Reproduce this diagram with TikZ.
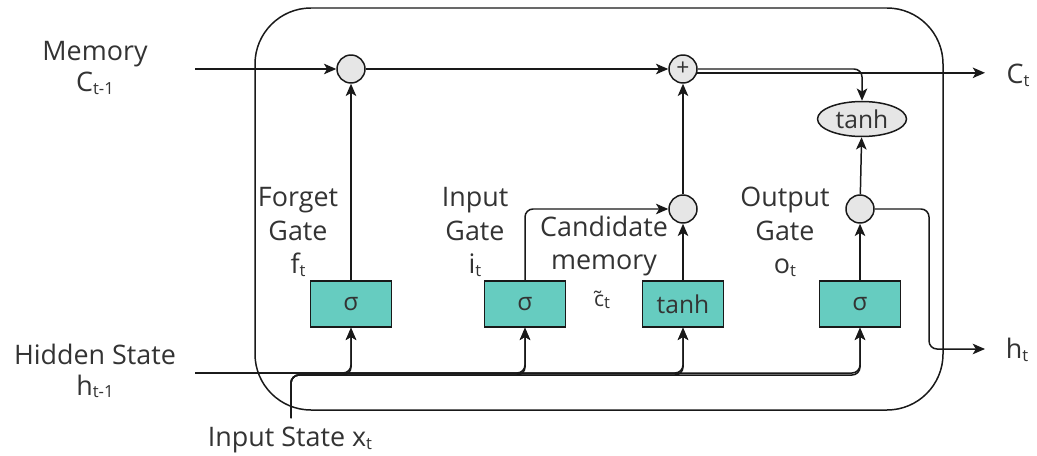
\documentclass[tikz,border=0pt]{standalone}
\usepackage{fontspec}
\setmainfont{Open Sans}
\usepackage{tikz}
\usetikzlibrary{arrows.meta}
\usetikzlibrary{shapes.geometric}
\definecolor{mteal}{RGB}{102,204,192}
\definecolor{mgrey}{RGB}{230,230,230}
\definecolor{mtext}{RGB}{51,51,51}
\newcommand{\lsub}[1]{\raisebox{-0.2ex}{\fontsize{9.5}{9.5}\selectfont #1}}
\tikzset{gatebox/.style = {draw, fill=mteal, minimum width=1.62cm, minimum height=0.92cm,
                           font=\fontsize{14}{16}\selectfont},
         opnode/.style = {circle, draw, fill=mgrey, minimum size=0.56cm, inner sep=0pt},
         flow/.style = {-{Stealth[length=7pt, width=6pt, inset=1.8pt]}},
         txt/.style = {align=center, font=\fontsize{15.3}{19}\selectfont}}

\begin{document}
\begin{tikzpicture}[x=0.02cm, y=-0.02cm, line width=0.85pt, color=black!90,
                    every node/.style={text=mtext}]
    \useasboundingbox (0,0) rectangle (1037,456);
    \draw [rounded corners=1.12cm] (255,8) rectangle (943,410);

    % pointwise operations
    \node [opnode] (fx) at (351,69) {};
    \node [opnode, font=\fontsize{13}{13}\selectfont] (add) at (683,69) {+};
    \node [opnode] (ix) at (683,209) {};
    \node [opnode] (ox) at (860,209) {};
    \node [ellipse, draw, fill=mgrey, minimum width=1.78cm, minimum height=0.7cm,
           inner sep=0pt, font=\fontsize{14}{16}\selectfont] (th) at (862,119) {tanh};

    % gates
    \node [gatebox] (fg) at (351,304) {σ};
    \node [gatebox] (ig) at (525,304) {σ};
    \node [gatebox] (cg) at (683,304) {tanh};
    \node [gatebox] (og) at (860,304) {σ};

    \coordinate (cin) at (195,69);
    \coordinate (hin) at (195,373);
    \coordinate (xin) at (291,418);
    \coordinate (xrail) at (291,375);
    \coordinate (cout) at (985,73);
    \coordinate (hout) at (985,349);

    \draw [flow] (cin) -- (fx);
    \draw [flow] (fx) -- (add);
    \draw [flow] (fg) -- (fx);
    \draw [flow] (cg) -- (ix);
    \draw [flow] (ix) -- (add);
    \draw [flow, rounded corners=0.16cm] (ig) |- (ix);
    \draw [flow] (og) -- (ox);
    \draw [flow] (ox) -- (th);
    \draw [flow, rounded corners=0.16cm] (add.east) -- (th |- add) -- (th);
    \draw [flow] (add.-15) -- (add.-15 -| cout);
    \draw [flow, rounded corners=0.16cm] (ox) -| (929,349) -- (hout);

    \foreach \b in {fg, ig, cg, og} {
      \draw [flow, rounded corners=0.16cm] (hin) -| (\b);
      \draw [flow, rounded corners=0.16cm] (xin) -- (xrail) -- (xrail -| \b) -- (\b);
    }

    % labels
    \node [txt, font=\fontsize{15.3}{17.5}\selectfont] (meml) at (95,68) {Memory\\C\lsub{t-1}};
    \node [txt, font=\fontsize{15.3}{17.5}\selectfont] (hidl) at (95,371) {Hidden State\\h\lsub{t-1}};
    \node [txt] (inpl) at (290,440) {Input State x\lsub{t}};
    \node [txt] (fgl) at (298,232) {Forget\\Gate\\f\lsub{t}};
    \node [txt] (igl) at (475,232) {Input\\Gate\\i\lsub{t}};
    \node [txt] (cml) at (604,246) {Candidate\\memory};
    \node [font=\fontsize{12}{12}\selectfont] (ctl) at (602,300) {\~{c}\lsub{t}};
    \node [txt] (ogl) at (785,232) {Output\\Gate\\o\lsub{t}};
    \node [txt] (ctx) at (1018,75) {C\lsub{t}};
    \node [txt] (htx) at (1017,350) {h\lsub{t}};
\end{tikzpicture}
\end{document}
